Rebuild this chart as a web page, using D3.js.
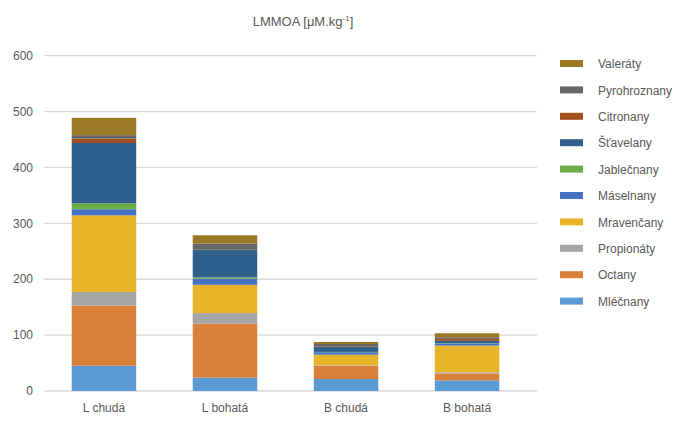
<!DOCTYPE html>
<html><head><meta charset="utf-8">
<script src="https://cdn.jsdelivr.net/npm/d3@7"></script>
<style>body{margin:0;background:#fff;} text{font-family:"Liberation Sans",Arial,sans-serif;}</style>
</head><body>
<svg id="c" width="687" height="424"></svg>
<script>
const categories = ["L chudá", "L bohatá", "B chudá", "B bohatá"];
const seriesNames = ["Mléčnany","Octany","Propionáty","Mravenčany","Máselnany","Jablečnany","Šťavelany","Citronany","Pyrohroznany","Valeráty"];
const mlecnany     = [45.3, 24.0, 21.5, 19.0];
const octany       = [107.5, 96.7, 23.5, 12.6];
const propionaty   = [24.5, 18.6, 1.0, 2.0];
const mravencany   = [137.0, 50.7, 19.0, 47.7];
const maselnany    = [11.0, 10.7, 4.5, 4.0];
const jablecnany   = [10.5, 2.5, 0.5, 0.5];
const stavelany    = [108.0, 49.0, 9.5, 4.0];
const citronany    = [8.0, 0.5, 1.0, 3.5];
const pyrohroznany = [6.0, 11.0, 3.6, 3.0];
const valeraty     = [31.0, 15.0, 3.6, 7.0];
const yTicks = [0, 100, 200, 300, 400, 500, 600];
const colors = ["#5B9BD5","#D9813A","#A5A5A5","#E8B52A","#4672C2","#6BAE47","#2F5F8C","#A3501F","#666666","#9C7A25"];

const seriesValues = [mlecnany, octany, propionaty, mravencany, maselnany, jablecnany, stavelany, citronany, pyrohroznany, valeraty];
const rows = categories.map((c, i) => {
  const r = {cat: c};
  seriesNames.forEach((s, j) => r[s] = seriesValues[j][i]);
  return r;
});
const stack = d3.stack().keys(seriesNames)(rows);

const svg = d3.select("#c");
const x = d3.scaleBand().domain(categories).range([43.5, 527.5]).paddingInner(0.467).paddingOuter(0.233);
const y = d3.scaleLinear().domain([0, 600]).range([391, 55.7]);

// gridlines
svg.append("g").selectAll("line").data(yTicks).join("line")
  .attr("x1", 44).attr("x2", 537)
  .attr("y1", d => y(d)).attr("y2", d => y(d))
  .attr("stroke", "#d9d9d9").attr("stroke-width", 1.3);

// y labels
svg.append("g").selectAll("text").data(yTicks).join("text")
  .attr("x", 33).attr("y", d => y(d)).attr("dy", "0.35em")
  .attr("text-anchor", "end").attr("font-size", 12).attr("fill", "#595959")
  .text(d => d);

// bars
svg.append("g").selectAll("g").data(stack).join("g")
  .attr("fill", (d, i) => colors[i])
  .selectAll("rect").data(d => d).join("rect")
  .attr("x", d => x(d.data.cat))
  .attr("width", x.bandwidth())
  .attr("y", d => y(d[1]))
  .attr("height", d => Math.max(0, y(d[0]) - y(d[1])));

// x labels
svg.append("g").selectAll("text").data(categories).join("text")
  .attr("x", d => x(d) + x.bandwidth() / 2).attr("y", 412)
  .attr("text-anchor", "middle").attr("font-size", 12).attr("fill", "#595959")
  .text(d => d);

// title
const t = svg.append("text").attr("x", 303).attr("y", 26).attr("text-anchor", "middle")
  .attr("font-size", 13).attr("fill", "#595959");
t.append("tspan").text("LMMOA [μM.kg");
t.append("tspan").attr("font-size", 8).attr("dy", -5).text("-1");
t.append("tspan").attr("dy", 5).text("]");

// legend
const legendOrder = seriesNames.map((s, i) => ({name: s, color: colors[i]})).reverse();
const lg = svg.append("g").selectAll("g").data(legendOrder).join("g")
  .attr("transform", (d, i) => `translate(560, ${64 + i * 26.4})`);
lg.append("rect").attr("x", 0).attr("y", -4).attr("width", 23).attr("height", 7).attr("fill", d => d.color);
lg.append("text").attr("x", 38).attr("y", 0).attr("dy", "0.35em").attr("font-size", 12).attr("fill", "#595959").text(d => d.name);
</script>
</body></html>
